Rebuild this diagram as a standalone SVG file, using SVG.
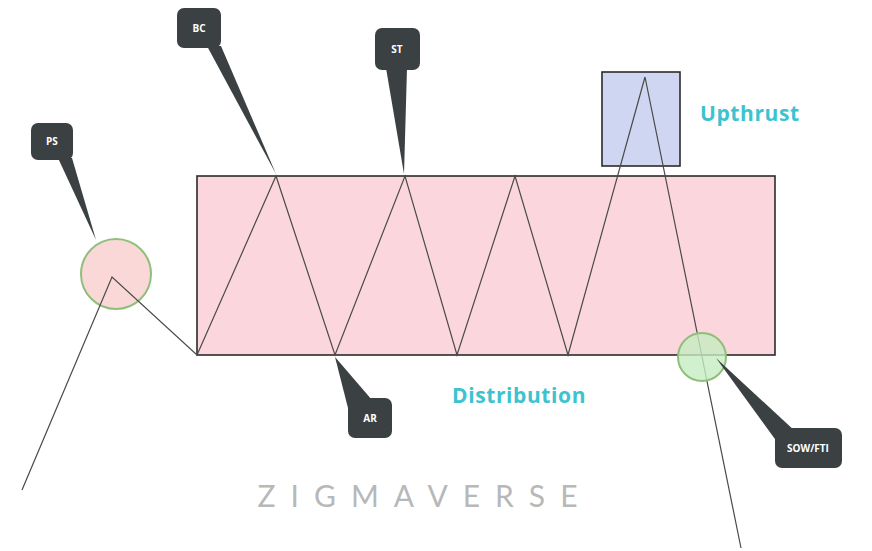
<svg xmlns="http://www.w3.org/2000/svg" width="872" height="551" viewBox="0 0 872 551">
<style>
.box{stroke:#2b2b2b;stroke-width:1.6}
.callout{fill:#3b4143}
.ct{fill:#ffffff;font-family:"Open Sans","DejaVu Sans",sans-serif;font-size:10px;font-weight:bold;text-anchor:middle}
.lbl{fill:#3cc3cf;font-family:"Open Sans","DejaVu Sans",sans-serif;font-size:21px;font-weight:bold;letter-spacing:0.6px}
.conn{fill:none;stroke:#4a4a4a;stroke-width:1.2}
</style>
<rect width="872" height="551" fill="#ffffff"/>
<g id="distribution-box">
<rect class="box" x="197" y="176" width="578" height="179" fill="#fbd6dd"/>
</g>
<g id="upthrust-box">
<rect class="box" x="602" y="72" width="78" height="94" fill="#ced6f1"/>
</g>
<g id="ps-circle">
<circle cx="116" cy="274" r="35" fill="#fbd8d8" stroke="#8fbf7a" stroke-width="2"/>
</g>
<g id="connectors">
<polyline class="conn" points="22,490 112,277 197,355 276,176 335,355 405,176 457,355 515,176 568,355 645,77 741,548"/>
</g>
<g id="sow-circle">
<circle cx="702" cy="357" r="24" fill="#c6ecc0" fill-opacity="0.8" stroke="#8fbf7a" stroke-width="2"/>
</g>
<g id="callout-ps">
<polygon class="callout" points="58,158 72,158 96,240"/>
<rect class="callout" x="31" y="123" width="42" height="37" rx="7"/>
<text class="ct" x="52" y="145">PS</text>
</g>
<g id="callout-bc">
<polygon class="callout" points="207,46 221,46 276,174"/>
<rect class="callout" x="177" y="8" width="44" height="40" rx="7"/>
<text class="ct" x="199" y="32">BC</text>
</g>
<g id="callout-st">
<polygon class="callout" points="386,68 407,68 404,174"/>
<rect class="callout" x="375" y="28" width="45" height="42" rx="7"/>
<text class="ct" x="397" y="53">ST</text>
</g>
<g id="callout-ar">
<polygon class="callout" points="335,357 349,412 372,400"/>
<rect class="callout" x="348" y="398" width="44" height="40" rx="7"/>
<text class="ct" x="370" y="422">AR</text>
</g>
<g id="callout-sow">
<polygon class="callout" points="716,358 780,446 796,432"/>
<rect class="callout" x="775" y="428" width="67" height="40" rx="7"/>
<text class="ct" x="808" y="452">SOW/FTI</text>
</g>
<g id="label-upthrust">
<text class="lbl" x="700" y="121">Upthrust</text>
</g>
<g id="label-distribution">
<text class="lbl" x="452" y="403">Distribution</text>
</g>
<g id="watermark">
<text x="425" y="507" fill="#b8b8b8" font-family="Lato,'DejaVu Sans',sans-serif" font-size="30" letter-spacing="15" text-anchor="middle">ZIGMAVERSE</text>
</g>
</svg>
